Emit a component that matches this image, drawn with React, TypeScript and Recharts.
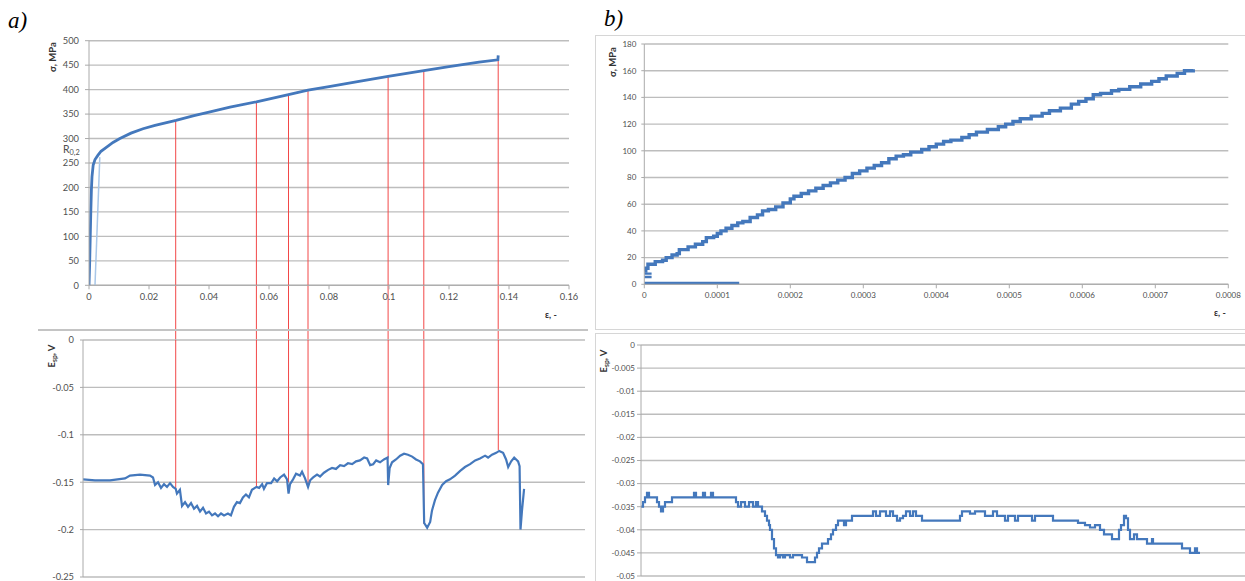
import React from "react"
import { LineChart, Line, XAxis, YAxis, CartesianGrid, ReferenceLine } from "recharts"

// ---- panel a, upper: stress vs strain ----
const aStressCurve: [number, number][] = [
  [0, 0], [0.0002, 40], [0.0004, 95], [0.0006, 150], [0.0008, 195], [0.001, 222],
  [0.0014, 246], [0.002, 257], [0.003, 266], [0.004, 274], [0.006, 283], [0.008, 292],
  [0.0103, 300], [0.014, 311], [0.018, 320], [0.022, 327], [0.029, 337], [0.035, 347],
  [0.04, 354], [0.047, 364], [0.0558, 375], [0.0665, 390], [0.073, 399], [0.08, 406],
  [0.09, 417], [0.0997, 427], [0.1116, 439], [0.12, 447], [0.13, 456], [0.1363, 461],
  [0.1364, 470],
]
// 0.2 % offset line
const aOffsetLine: [number, number][] = [[0.002, 0], [0.0036, 262]]

const aStrainTicks = [0, 0.02, 0.04, 0.06, 0.08, 0.1, 0.12, 0.14, 0.16]
const aStressTicks = [0, 50, 100, 150, 200, 250, 300, 350, 400, 450, 500]

// red marker lines joining both plots of panel a
const markStrain = [0.0289, 0.0558, 0.0665, 0.073, 0.0997, 0.1116, 0.1364]
const markStress = [337, 375, 390, 399, 427, 439, 461]
const markPotential = [-0.157, -0.155, -0.15, -0.152, -0.125, -0.194, -0.116]
const belowAxisStress = -112 // where the upper red segments meet the lower plot

// ---- panel a, lower: potential ----
const aPotential: [number, number][] = [
  [-0.002, -0.147], [0.002, -0.148], [0.007, -0.148], [0.012, -0.146], [0.01367, -0.143],
  [0.017, -0.142], [0.02033, -0.143], [0.02133, -0.145], [0.022, -0.153], [0.023, -0.15],
  [0.024, -0.156], [0.025, -0.152], [0.026, -0.155], [0.027, -0.151], [0.028, -0.155],
  [0.0289, -0.157], [0.0293, -0.162], [0.0303, -0.158], [0.031, -0.175], [0.032, -0.171],
  [0.033, -0.176], [0.034, -0.172], [0.035, -0.178], [0.036, -0.175], [0.037, -0.181],
  [0.038, -0.177], [0.039, -0.183], [0.04, -0.181], [0.041, -0.185], [0.042, -0.183],
  [0.043, -0.186], [0.044, -0.183], [0.045, -0.185], [0.0463, -0.183], [0.0473, -0.185],
  [0.0483, -0.176], [0.0493, -0.171], [0.0503, -0.172], [0.0513, -0.166], [0.0523, -0.163],
  [0.0533, -0.166], [0.0543, -0.158], [0.0558, -0.155], [0.0567, -0.156], [0.0577, -0.152],
  [0.0583, -0.157], [0.0593, -0.151], [0.0607, -0.151], [0.0617, -0.146], [0.0627, -0.149],
  [0.0637, -0.145], [0.065, -0.142], [0.066, -0.147], [0.0665, -0.162], [0.067, -0.152],
  [0.068, -0.147], [0.069, -0.141], [0.0703, -0.143], [0.071, -0.139], [0.072, -0.146],
  [0.073, -0.155], [0.0737, -0.148], [0.0747, -0.145], [0.076, -0.142], [0.077, -0.144],
  [0.0783, -0.14], [0.0797, -0.137], [0.081, -0.135], [0.0823, -0.136], [0.0837, -0.132],
  [0.085, -0.133], [0.0863, -0.13], [0.0877, -0.131], [0.089, -0.128], [0.0903, -0.127],
  [0.0917, -0.124], [0.0927, -0.125], [0.0937, -0.132], [0.0947, -0.131], [0.0957, -0.127],
  [0.097, -0.129], [0.0983, -0.126], [0.0995, -0.124], [0.0997, -0.153], [0.1002, -0.135],
  [0.101, -0.129], [0.1023, -0.126], [0.1037, -0.122], [0.105, -0.12], [0.1063, -0.121],
  [0.1077, -0.123], [0.109, -0.126], [0.1103, -0.128], [0.1113, -0.131], [0.1117, -0.193],
  [0.1127, -0.198], [0.1137, -0.192], [0.1143, -0.18], [0.1153, -0.169], [0.1163, -0.161],
  [0.1177, -0.153], [0.119, -0.149], [0.1203, -0.147], [0.122, -0.143], [0.1237, -0.138],
  [0.1253, -0.134], [0.127, -0.131], [0.1287, -0.127], [0.1303, -0.125], [0.132, -0.122],
  [0.133, -0.124], [0.1343, -0.121], [0.1357, -0.119], [0.1367, -0.117], [0.138, -0.119],
  [0.139, -0.126], [0.1397, -0.134], [0.1407, -0.128], [0.1417, -0.124], [0.143, -0.128],
  [0.1435, -0.133], [0.1438, -0.2], [0.1443, -0.18], [0.145, -0.157],
]
const aPotTicks = [-0.25, -0.2, -0.15, -0.1, -0.05, 0]

// ---- panel b, upper: stress vs strain (strain in 1e-4) ----
const bStressCurve: [number, number][] = [
  [0, 10], [0.02, 12], [0.05, 15], [0.12, 15], [0.15, 17], [0.25, 18], [0.3, 20],
  [0.38, 22], [0.45, 23], [0.48, 26], [0.55, 26], [0.6, 28], [0.7, 30], [0.8, 32],
  [0.85, 35], [0.95, 36], [1.0, 38], [1.05, 40], [1.12, 42], [1.2, 44], [1.28, 46],
  [1.35, 47], [1.45, 50], [1.55, 52], [1.62, 55], [1.7, 56], [1.8, 58], [1.9, 61],
  [2.0, 64], [2.05, 66], [2.15, 68], [2.25, 70], [2.35, 72], [2.45, 74], [2.55, 76],
  [2.65, 78], [2.75, 80], [2.85, 83], [2.95, 85], [3.05, 87], [3.15, 89], [3.25, 91],
  [3.35, 94], [3.45, 96], [3.55, 97], [3.65, 99], [3.8, 101], [3.9, 103], [4.0, 105],
  [4.1, 107], [4.2, 108], [4.35, 110], [4.45, 112], [4.55, 114], [4.7, 116], [4.85, 118],
  [4.95, 120], [5.05, 122], [5.15, 124], [5.3, 126], [5.45, 128], [5.55, 130], [5.7, 132],
  [5.85, 135], [5.95, 137], [6.05, 139], [6.15, 142], [6.25, 143], [6.4, 145], [6.5, 146],
  [6.65, 148], [6.8, 150], [6.95, 152], [7.05, 154], [7.15, 156], [7.3, 158], [7.4, 160],
  [7.52, 161],
]
// unloaded start: short dashes at zero strain and the base line
const bBaseLine: [number, number | null][] = [
  [0, 8], [0.1, 8], [0.1, null], [0, 5.5], [0.1, 5.5], [0.1, null], [0, 1], [1.3, 1],
]
const bStrainTicks = [0, 1, 2, 3, 4, 5, 6, 7, 8]
const bStressTicks = [0, 20, 40, 60, 80, 100, 120, 140, 160, 180]

// ---- panel b, lower: potential (unlabelled time axis) ----
const bPotential: [number, number][] = [
  [0, -0.035], [0.4, -0.034], [0.8, -0.033], [1.2, -0.032], [1.6, -0.033], [3.2, -0.034],
  [3.6, -0.035], [4.0, -0.036], [4.4, -0.035], [4.8, -0.034], [6.2, -0.033], [10.6, -0.032],
  [11, -0.033], [12.4, -0.032], [12.8, -0.033], [14, -0.032], [14.4, -0.033], [19, -0.034],
  [19.4, -0.035], [20, -0.034], [20.8, -0.035], [21.6, -0.034], [22.4, -0.035], [23, -0.034],
  [23.4, -0.035], [24.2, -0.036], [24.8, -0.037], [25.2, -0.038], [25.6, -0.039], [25.8, -0.04],
  [26.2, -0.042], [26.6, -0.044], [27, -0.0455], [27.4, -0.046], [27.8, -0.0455], [28.4, -0.046],
  [28.8, -0.0455], [29.8, -0.046], [30.4, -0.0455], [32.2, -0.046], [33.2, -0.047], [34.8, -0.046],
  [35.2, -0.045], [35.6, -0.044], [36.2, -0.043], [37.4, -0.042], [38, -0.041], [38.4, -0.04],
  [39, -0.039], [39.4, -0.038], [40.6, -0.039], [41, -0.038], [42.2, -0.037], [46.4, -0.036],
  [47, -0.037], [47.8, -0.036], [49, -0.037], [49.8, -0.036], [50.4, -0.037], [51.2, -0.038],
  [51.8, -0.0375], [52.4, -0.037], [53, -0.036], [53.8, -0.037], [54.4, -0.036], [55, -0.037],
  [56.2, -0.038], [63.8, -0.037], [64.2, -0.036], [65.8, -0.0365], [66.8, -0.036], [68.8, -0.037],
  [70.4, -0.036], [71.2, -0.037], [72.8, -0.038], [73.4, -0.037], [74.8, -0.038], [75.4, -0.037],
  [78.2, -0.038], [78.8, -0.037], [82.4, -0.038], [87.4, -0.0385], [88.8, -0.039], [89.8, -0.0395],
  [90.8, -0.039], [91.8, -0.04], [92.6, -0.041], [94.2, -0.042], [95.6, -0.04], [96, -0.039],
  [96.6, -0.037], [97, -0.0375], [97.4, -0.04], [97.8, -0.042], [98.6, -0.041], [99.2, -0.042],
  [101.2, -0.043], [102.2, -0.042], [102.4, -0.043], [108.2, -0.044], [109.8, -0.045],
  [110.8, -0.044], [111.2, -0.045], [111.8, -0.045],
]
const bPotTicks = [-0.05, -0.045, -0.04, -0.035, -0.03, -0.025, -0.02, -0.015, -0.01, -0.005, 0]

const toPts = (pairs: [number, number | null][]) => pairs.map(([x, y]) => ({ x, y }))

const blue = "#4478bc"
const red = "#f24848"
const grid = "#bdbdbd"
const axisGray = "#aaaaaa"
const font = "Lato, 'Open Sans', sans-serif"
const tickA = { fill: "#4f4f4f", fontSize: 9.3, fontFamily: font }
const tickB = { fill: "#4f4f4f", fontSize: 8, fontFamily: font }

function VLabel({ cx, cy, children }: { cx: number; cy: number; children: React.ReactNode }) {
  return (
    <div
      style={{
        position: "absolute",
        left: cx,
        top: cy,
        transform: "translate(-50%, -50%) rotate(-90deg)",
        whiteSpace: "nowrap",
        fontFamily: font,
        fontWeight: 700,
        fontSize: 9.5,
        color: "#333333",
        lineHeight: 1,
      }}
    >
      {children}
    </div>
  )
}

const sub = { fontSize: "0.7em", verticalAlign: "-0.25em" as const }

export default function App() {
  return (
    <div
      style={{
        position: "absolute",
        left: 0,
        top: 0,
        width: 1245,
        height: 581,
        overflow: "hidden",
        background: "white",
      }}
    >
      {/* panel a, upper */}
      <div style={{ position: "absolute", left: 0, top: 0 }}>
        <LineChart width={600} height={340} margin={{ top: 40.7, right: 31, bottom: 24.7, left: 29 }}>
          <CartesianGrid vertical={false} stroke={grid} strokeWidth={1.4} />
          <XAxis
            type="number"
            dataKey="x"
            domain={[0, 0.16]}
            ticks={aStrainTicks}
            interval={0}
            tick={tickA}
            tickSize={4}
            tickMargin={4}
            stroke={axisGray}
            height={30}
            allowDataOverflow
          />
          <YAxis
            type="number"
            domain={[0, 500]}
            ticks={aStressTicks}
            interval={0}
            tick={tickA}
            tickSize={4}
            tickMargin={6}
            stroke={axisGray}
            width={60}
          />
          <Line
            data={toPts(aOffsetLine)}
            dataKey="y"
            stroke="#a9c7e8"
            strokeWidth={1.5}
            dot={false}
            activeDot={false}
            isAnimationActive={false}
          />
          {markStrain.map((s, i) => (
            <ReferenceLine
              key={i}
              segment={[{ x: s, y: markStress[i] }, { x: s, y: belowAxisStress }]}
              stroke={red}
              strokeWidth={1}
              ifOverflow="visible"
            />
          ))}
          <Line
            data={toPts(aStressCurve)}
            dataKey="y"
            stroke={blue}
            strokeWidth={2.8}
            dot={false}
            activeDot={false}
            isAnimationActive={false}
          />
        </LineChart>
      </div>

      {/* panel a, lower */}
      <div style={{ position: "absolute", left: 38, top: 329, width: 550, borderTop: "2px solid #c4c4c4" }} />
      <div style={{ position: "absolute", left: 0, top: 330 }}>
        <LineChart width={600} height={251} margin={{ top: 10, right: 15, bottom: 4, left: 23 }}>
          <CartesianGrid vertical={false} stroke={grid} strokeWidth={1.4} />
          <XAxis type="number" dataKey="x" domain={[-0.002, 0.1653]} hide allowDataOverflow />
          <YAxis
            type="number"
            domain={[-0.25, 0]}
            ticks={aPotTicks}
            interval={0}
            tick={tickA}
            tickSize={3}
            tickMargin={6}
            stroke={axisGray}
            width={60}
          />
          {markStrain.map((s, i) => (
            <ReferenceLine
              key={i}
              segment={[{ x: s, y: 0 }, { x: s, y: markPotential[i] }]}
              stroke={red}
              strokeWidth={1}
              ifOverflow="visible"
            />
          ))}
          <Line
            data={toPts(aPotential)}
            dataKey="y"
            stroke={blue}
            strokeWidth={2.2}
            dot={false}
            activeDot={false}
            isAnimationActive={false}
          />
        </LineChart>
      </div>

      {/* panel b, upper */}
      <div
        style={{
          position: "absolute",
          left: 595,
          top: 35,
          width: 660,
          height: 295,
          border: "1px solid #d6d6d6",
          boxSizing: "border-box",
        }}
      />
      <div style={{ position: "absolute", left: 595, top: 35 }}>
        <LineChart width={650} height={295} margin={{ top: 9, right: 16.7, bottom: 15.7, left: 9.3 }}>
          <CartesianGrid vertical={false} stroke={grid} strokeWidth={1.4} />
          <XAxis
            type="number"
            dataKey="x"
            domain={[0, 8]}
            ticks={bStrainTicks}
            interval={0}
            tickFormatter={(v: number) => (v === 0 ? "0" : (v / 10000).toFixed(4))}
            tick={tickB}
            tickSize={4}
            tickMargin={4}
            stroke={axisGray}
            height={30}
          />
          <YAxis
            type="number"
            domain={[0, 180]}
            ticks={bStressTicks}
            interval={0}
            tick={tickB}
            tickSize={3}
            tickMargin={5}
            stroke={axisGray}
            width={40}
          />
          <Line
            data={toPts(bBaseLine)}
            dataKey="y"
            stroke={blue}
            strokeWidth={2.4}
            dot={false}
            activeDot={false}
            isAnimationActive={false}
          />
          <Line
            data={toPts(bStressCurve)}
            dataKey="y"
            type="stepAfter"
            stroke={blue}
            strokeWidth={3.4}
            dot={false}
            activeDot={false}
            isAnimationActive={false}
          />
        </LineChart>
      </div>

      {/* panel b, lower */}
      <div
        style={{
          position: "absolute",
          left: 595,
          top: 333,
          width: 660,
          height: 260,
          border: "1px solid #d6d6d6",
          boxSizing: "border-box",
        }}
      />
      <div style={{ position: "absolute", left: 595, top: 333 }}>
        <LineChart width={651} height={248} margin={{ top: 12, right: 0, bottom: 5, left: 6 }}>
          <CartesianGrid vertical={false} stroke={grid} strokeWidth={1.4} />
          <XAxis type="number" dataKey="x" domain={[0, 121]} hide />
          <YAxis
            type="number"
            domain={[-0.05, 0]}
            ticks={bPotTicks}
            interval={0}
            tick={tickB}
            tickSize={4}
            tickMargin={2}
            stroke={axisGray}
            width={40}
          />
          <Line
            data={toPts(bPotential)}
            dataKey="y"
            type="stepAfter"
            stroke={blue}
            strokeWidth={2.2}
            dot={false}
            activeDot={false}
            isAnimationActive={false}
          />
        </LineChart>
      </div>

      {/* panel letters */}
      <div
        style={{
          position: "absolute",
          left: 8,
          top: 9,
          fontFamily: "'Liberation Serif', serif",
          fontStyle: "italic",
          fontSize: 23,
          lineHeight: 1,
        }}
      >
        a)
      </div>
      <div
        style={{
          position: "absolute",
          left: 604,
          top: 7,
          fontFamily: "'Liberation Serif', serif",
          fontStyle: "italic",
          fontSize: 23,
          lineHeight: 1,
        }}
      >
        b)
      </div>

      {/* axis titles */}
      <VLabel cx={53} cy={57}>σ, MPa</VLabel>
      <VLabel cx={52} cy={356}>
        E<span style={sub}>sp</span>, V
      </VLabel>
      <VLabel cx={613} cy={62}>σ, MPa</VLabel>
      <VLabel cx={604} cy={361}>
        E<span style={sub}>sp</span>, V
      </VLabel>
      <div
        style={{
          position: "absolute",
          left: 63,
          top: 144,
          fontFamily: font,
          fontSize: 10.5,
          color: "#4f4f4f",
          lineHeight: 1,
        }}
      >
        R<span style={sub}>0,2</span>
      </div>
      <div
        style={{
          position: "absolute",
          left: 545,
          top: 310,
          fontFamily: font,
          fontWeight: 700,
          fontSize: 9,
          color: "#333333",
          lineHeight: 1,
        }}
      >
        ε, -
      </div>
      <div
        style={{
          position: "absolute",
          left: 1214,
          top: 308,
          fontFamily: font,
          fontWeight: 700,
          fontSize: 9,
          color: "#333333",
          lineHeight: 1,
        }}
      >
        ε, -
      </div>
    </div>
  )
}
